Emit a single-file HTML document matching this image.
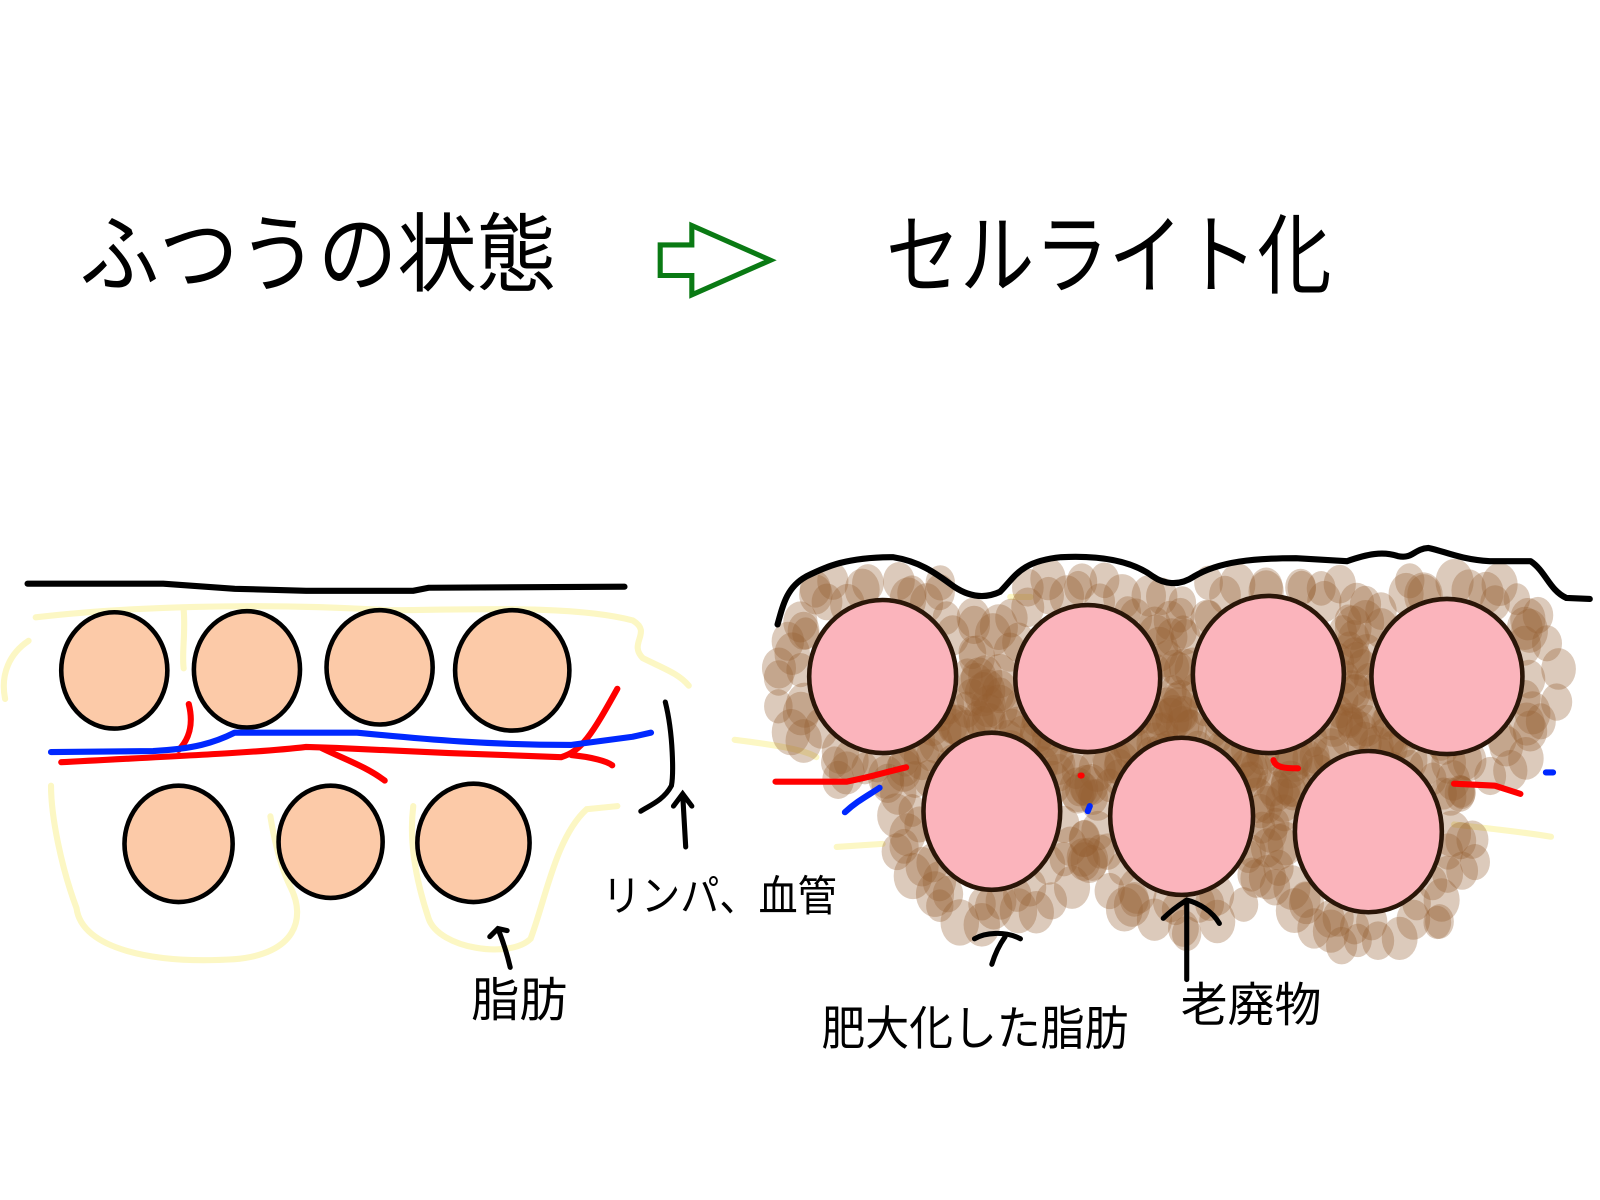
<!DOCTYPE html>
<html><head><meta charset="utf-8"><style>
html,body{margin:0;padding:0;background:#fff;width:1600px;height:1200px;overflow:hidden}
svg{display:block}
text{font-family:"Liberation Sans","Noto Sans CJK JP",sans-serif;fill:#000}
</style></head><body>
<svg id="s" width="1600" height="1200" viewBox="0 0 1600 1200" xmlns="http://www.w3.org/2000/svg">
<g transform="scale(1.0204)">
<text x="78" y="279" font-size="84" textLength="467" lengthAdjust="spacingAndGlyphs">ふつうの状態</text>
<text x="868" y="281" font-size="86" textLength="437" lengthAdjust="spacingAndGlyphs">セルライト化</text>
<polygon points="647,240 678,240 678,221 755,255 678,289 678,270 647,270" fill="none" stroke="#0a7a14" stroke-width="5"/>

<!-- LEFT -->
<g fill="none" stroke="#fcf7c4" stroke-width="6" stroke-linecap="round">
<path d="M35,605 C120,595 250,590 380,598 C450,598 560,592 620,608 C640,620 615,630 630,645 C650,655 665,660 675,672"/>
<path d="M28,628 C10,640 0,660 5,685 M180,598 C182,620 178,640 180,655"/>
<path d="M50,770 C50,800 60,850 75,890 C80,930 150,945 230,940 C290,935 300,900 285,870 C275,850 268,820 265,800"/>
<path d="M405,790 C400,830 410,870 420,900 C430,930 500,940 520,920 C535,880 545,820 575,793 L605,790"/>
</g>
<path d="M27,572 L160,572 L230,577 L300,579 L405,579 L420,576 L612,575" fill="none" stroke="#000" stroke-width="6" stroke-linecap="round"/>
<g fill="#fccaa8" stroke="#000" stroke-width="4.5">
<ellipse cx="112" cy="657" rx="52" ry="57"/>
<ellipse cx="242" cy="656" rx="52" ry="57"/>
<ellipse cx="372" cy="654" rx="52" ry="56"/>
<ellipse cx="502" cy="657" rx="56" ry="59"/>
<ellipse cx="175" cy="827" rx="53" ry="57"/>
<ellipse cx="324" cy="825" rx="51" ry="55"/>
<ellipse cx="464" cy="826" rx="55" ry="58"/>
</g>
<g fill="none" stroke-width="6" stroke-linecap="round" stroke-linejoin="round">
<path d="M60,747 C150,742 250,738 300,732 L330,733 L440,738 L550,742 C570,736 580,720 605,675" stroke="#f00"/>
<path d="M185,690 C190,710 185,725 175,735 M315,733 C340,745 360,752 377,765 M560,740 C580,742 595,746 600,750" stroke="#f00"/>
<path d="M50,737 L150,736 C190,734 210,728 230,718 L350,718 C420,725 480,730 560,730 L620,722 L638,718" stroke="#0028ff"/>
</g>
<g fill="none" stroke="#000" stroke-width="5" stroke-linecap="round">
<path d="M652,688 C660,720 660,760 658,770 C650,785 635,790 628,795"/>
<path d="M672,830 L669,778 M660,790 L669,778 L678,790"/>
<path d="M500,948 C497,935 492,920 488,910 M480,918 L488,910 L497,912"/>
</g>
<text x="590" y="893" font-size="42" textLength="230" lengthAdjust="spacingAndGlyphs">リンパ、血管</text>
<text x="462" y="996" font-size="46" textLength="94" lengthAdjust="spacingAndGlyphs">脂肪</text>

<!-- RIGHT -->
<g fill="none" stroke="#fcf7c4" stroke-width="6" stroke-linecap="round">
<path d="M720,725 C760,730 790,735 800,742 M820,830 L865,827 M1425,808 C1460,812 1490,815 1520,820 M990,585 L1010,585 M1215,592 C1235,600 1245,605 1250,610"/>
</g>
<g id="blobs"></g>
<path d="M762,612 C768,590 772,575 790,565 C810,555 830,546 875,546 C900,550 915,560 935,575 C950,585 965,587 980,580 C995,565 1000,550 1040,546 C1080,544 1110,550 1130,565 C1140,572 1155,575 1170,565 C1195,550 1230,547 1270,547 L1320,550 C1340,543 1355,540 1370,545 C1385,548 1385,538 1400,537 C1415,540 1430,548 1460,550 L1500,550 C1515,560 1518,578 1535,586 L1558,587" fill="none" stroke="#000" stroke-width="6" stroke-linecap="round" stroke-linejoin="round"/>
<g fill="#fbb4bc" stroke="#2a1608" stroke-width="4.5">
<ellipse cx="865" cy="663" rx="72" ry="75"/>
<ellipse cx="1066" cy="665" rx="71" ry="72"/>
<ellipse cx="1243" cy="661" rx="74" ry="77"/>
<ellipse cx="1418" cy="663" rx="74" ry="76"/>
<ellipse cx="972" cy="795" rx="67" ry="77"/>
<ellipse cx="1158" cy="800" rx="70" ry="77"/>
<ellipse cx="1341" cy="815" rx="72" ry="79"/>
</g>
<g fill="none" stroke-width="6" stroke-linecap="round">
<path d="M760,766 L830,766 C860,760 870,756 888,752" stroke="#f00"/>
<path d="M828,796 C840,785 850,780 862,772" stroke="#0028ff"/>
<path d="M1248,745 C1250,752 1258,753 1272,753 M1425,768 L1465,770 L1490,778" stroke="#f00"/>
<path d="M1515,757 L1522,757 M1066,795 L1068,790" stroke="#0028ff"/>
<path d="M1059,760 L1060,760" stroke="#f00"/>
</g>
<g fill="none" stroke="#000" stroke-width="5" stroke-linecap="round">
<path d="M1163,960 L1163,885 M1140,900 C1150,890 1160,884 1163,882 C1175,885 1188,893 1195,905"/>
<path d="M972,945 C975,935 980,925 985,918 M955,920 C965,914 985,912 1000,920"/>
</g>
<text x="805" y="1024" font-size="46" textLength="301" lengthAdjust="spacingAndGlyphs">肥大化した脂肪</text>
<text x="1157" y="1001" font-size="46" textLength="138" lengthAdjust="spacingAndGlyphs">老廃物</text>
</g>
</svg>
<script>
(function(){
var g=document.getElementById('blobs');var seed=11;function r(){seed=(seed*16807)%2147483647;return seed/2147483647;}
var E=[[865,663,72,75],[1066,665,71,72],[1243,661,74,77],[1418,663,74,76],[972,795,67,77],[1158,800,70,77],[1341,815,72,79]];
var s='';
E.forEach(function(e){
 for(var k=0;k<2;k++){
 for(var i=0;i<30;i++){var a=i/30*Math.PI*2+r()*0.3;var d=(k?22:4)+r()*16;
  var x=e[0]+Math.cos(a)*(e[2]+d),y=e[1]+Math.sin(a)*(e[3]+d);
  if(y<565)continue;
  var rr=13+r()*6;
  s+='<ellipse cx="'+x.toFixed(1)+'" cy="'+y.toFixed(1)+'" rx="'+rr.toFixed(1)+'" ry="'+(rr*1.2).toFixed(1)+'" fill="rgba(150,95,50,0.33)"/>';}
 }
});
g.innerHTML=s;
})();
</script>
</body></html>
